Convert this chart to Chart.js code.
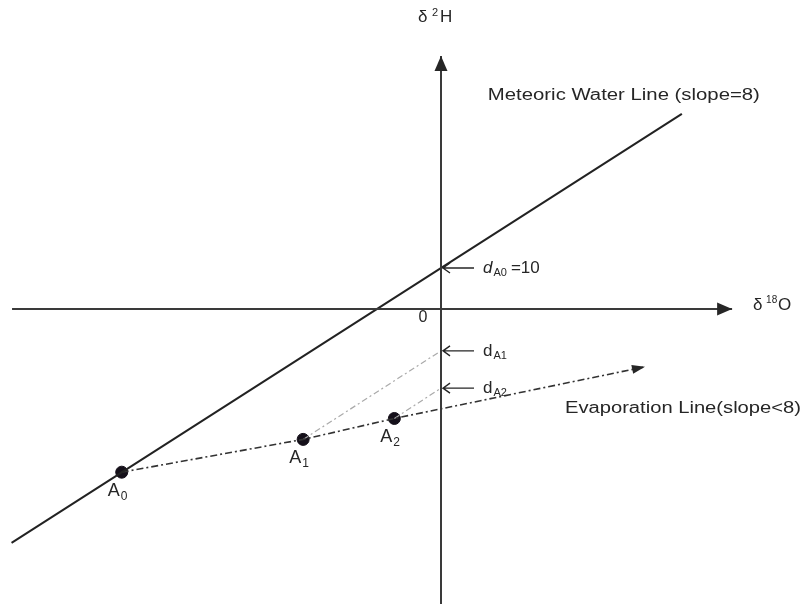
<!DOCTYPE html>
<html>
<head>
<meta charset="utf-8">
<script src="https://cdn.jsdelivr.net/npm/chart.js@4/dist/chart.umd.min.js"></script>
<style>
  html, body { margin: 0; padding: 0; background: #fff; overflow: hidden; }
  #wrap { width: 804px; height: 604px; position: relative; }
</style>
</head>
<body>
<div id="wrap"><canvas id="isoChart"></canvas></div>
<script>
// axis extents (δ18O / δ2H units of this sketch)
const xAxisX = [-8.37, 5.68];
const yAxisY = [-72, 61.7];

// Meteoric water line: δ2H = 8 δ18O + 10
const mwlX = [-8.38, 4.70];
const mwlY = mwlX.map(v => 8 * v + 10);

// samples on the evaporation line
const sampleNames = ['0', '1', '2'];
const sampleX = [-6.23, -2.69, -0.91];
const sampleY = [-39.8, -31.8, -26.7];

// end of the evaporation line arrow
const evapEndX = 3.98;
const evapEndY = -14.1;

// deuterium excess intercepts on the δ2H axis for A1, A2
const dExcessY = [-10.2, -19.3];

const pts = (xs, ys) => xs.map((x, i) => ({ x: x, y: ys[i] }));

const evapLine = pts(sampleX, sampleY).concat([{ x: evapEndX, y: evapEndY }]);

const FONT = '"Liberation Sans", Arial, sans-serif';

function arrowHead(ctx, x1, y1, x2, y2, len, half) {
    let a = Math.atan2(y2 - y1, x2 - x1);
    ctx.beginPath();
    ctx.moveTo(x2, y2);
    ctx.lineTo(x2 - len * Math.cos(a) + half * Math.sin(a), y2 - len * Math.sin(a) - half * Math.cos(a));
    ctx.lineTo(x2 - len * Math.cos(a) - half * Math.sin(a), y2 - len * Math.sin(a) + half * Math.cos(a));
    ctx.closePath();
    ctx.fill();
}

// text stretched to a given width
function fitText(ctx, txt, x, y, w) {
    let m = ctx.measureText(txt).width;
    ctx.save();
    ctx.translate(x, y);
    ctx.scale(w / m, 1);
    ctx.fillText(txt, 0, 0);
    ctx.restore();
}

function subLabel(ctx, main, sub, x, y, mainSize, subSize, italic) {
    ctx.font = (italic ? 'italic ' : '') + mainSize + 'px ' + FONT;
    ctx.fillText(main, x, y);
    let w = ctx.measureText(main).width;
    ctx.font = subSize + 'px ' + FONT;
    ctx.fillText(sub, x + w + 1, y + 5);
    return x + w + 1 + ctx.measureText(sub).width;
}

const annotations = {
    id: 'annotations',
    afterDatasetsDraw(chart) {
        const ctx = chart.ctx;
        const xs = chart.scales.x, ys = chart.scales.y;
        const px = v => xs.getPixelForValue(v);
        const py = v => ys.getPixelForValue(v);
        const ox = px(0), oy = py(0);
        ctx.save();
        ctx.fillStyle = '#262626';
        ctx.strokeStyle = '#262626';

        // axis arrow heads
        arrowHead(ctx, px(xAxisX[0]), oy, px(xAxisX[1]), oy, 15, 6.5);
        arrowHead(ctx, ox, py(yAxisY[0]), ox, py(yAxisY[1]), 15, 6.5);
        // evaporation line arrow head
        arrowHead(ctx, px(sampleX[2]), py(sampleY[2]), px(evapEndX), py(evapEndY), 13, 4.5);

        ctx.textBaseline = 'middle';
        ctx.textAlign = 'left';

        // axis titles
        ctx.font = '17px ' + FONT;
        ctx.fillText('δ', ox - 23, py(yAxisY[1]) - 39);
        ctx.font = '11px ' + FONT;
        ctx.fillText('2', ox - 9, py(yAxisY[1]) - 43);
        ctx.font = '17px ' + FONT;
        ctx.fillText('H', ox - 1, py(yAxisY[1]) - 39);

        ctx.fillText('δ', px(xAxisX[1]) + 21, oy - 4);
        ctx.font = '10px ' + FONT;
        ctx.fillText('18', px(xAxisX[1]) + 34, oy - 9);
        ctx.font = '17px ' + FONT;
        ctx.fillText('O', px(xAxisX[1]) + 46, oy - 4);

        ctx.font = '16px ' + FONT;
        ctx.textAlign = 'center';
        ctx.fillText('0', ox - 18, oy + 9);
        ctx.textAlign = 'left';

        // line labels
        ctx.font = '16px ' + FONT;
        fitText(ctx, 'Meteoric Water Line (slope=8)', px(mwlX[1]) - 194, py(mwlY[1]) - 18, 272);
        fitText(ctx, 'Evaporation Line(slope<8)', px(evapEndX) - 80, py(evapEndY) + 42, 236);

        // d-excess pointers
        const dY = [10].concat(dExcessY);
        const dTxt = ['=10', '', ''];
        dY.forEach((v, i) => {
            let y = py(v);
            ctx.lineWidth = 1.4;
            ctx.beginPath();
            ctx.moveTo(ox + 2, y);
            ctx.lineTo(ox + 33, y);
            ctx.moveTo(ox + 9, y - 5);
            ctx.lineTo(ox + 2, y);
            ctx.lineTo(ox + 9, y + 5);
            ctx.stroke();
            let end = subLabel(ctx, 'd', 'A' + sampleNames[i], ox + 42, y, 17, 11, i === 0);
            if (dTxt[i]) {
                ctx.font = '17px ' + FONT;
                ctx.fillText(dTxt[i], end + 4, y);
            }
        });

        // sample labels
        sampleX.forEach((v, i) => {
            let x = px(v) - 14, y = py(sampleY[i]) + 19;
            subLabel(ctx, 'A', sampleNames[i], x, y, 18, 12, false);
        });
        ctx.restore();
    }
};

new Chart(document.getElementById('isoChart').getContext('2d'), {
    type: 'scatter',
    data: {
        datasets: [
            {   // δ18O axis
                data: [{ x: xAxisX[0], y: 0 }, { x: xAxisX[1], y: 0 }],
                showLine: true, borderColor: '#3a3a3a', borderWidth: 2, pointRadius: 0
            },
            {   // δ2H axis
                data: [{ x: 0, y: yAxisY[0] }, { x: 0, y: yAxisY[1] }],
                showLine: true, borderColor: '#3a3a3a', borderWidth: 2, pointRadius: 0
            },
            {   // meteoric water line
                data: pts(mwlX, mwlY),
                showLine: true, borderColor: '#222', borderWidth: 2, pointRadius: 0
            },
            {   // evaporation line
                data: evapLine,
                showLine: true, borderColor: '#333', borderWidth: 1.6, pointRadius: 0,
                borderDash: [7, 3, 2, 3]
            },
            {   // A1 -> dA1
                data: [{ x: sampleX[1], y: sampleY[1] }, { x: 0, y: dExcessY[0] }],
                showLine: true, borderColor: '#aaa', borderWidth: 1.2, pointRadius: 0,
                borderDash: [6, 3, 2, 3]
            },
            {   // A2 -> dA2
                data: [{ x: sampleX[2], y: sampleY[2] }, { x: 0, y: dExcessY[1] }],
                showLine: true, borderColor: '#aaa', borderWidth: 1.2, pointRadius: 0,
                borderDash: [6, 3, 2, 3]
            },
            {   // samples
                data: pts(sampleX, sampleY),
                showLine: false, pointRadius: 6, pointBackgroundColor: '#15101a',
                pointBorderColor: '#15101a', pointBorderWidth: 1
            }
        ]
    },
    plugins: [annotations],
    options: {
        responsive: true,
        maintainAspectRatio: false,
        animation: false,
        layout: { padding: 0, autoPadding: false },
        plugins: { legend: { display: false }, tooltip: { enabled: false } },
        scales: {
            x: { type: 'linear', min: -8.605, max: 7.083, display: false },
            y: { type: 'linear', min: -71.95, max: 75.37, display: false }
        }
    }
});
</script>
</body>
</html>
